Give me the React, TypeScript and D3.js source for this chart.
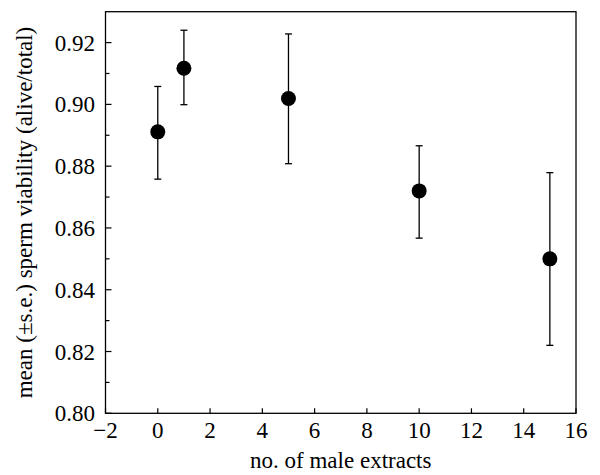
import React from "react";
import * as d3 from "d3";

const extracts = [0, 1, 5, 10, 15];
const meanViability = [0.8911, 0.9117, 0.9019, 0.872, 0.85];
const seUpper = [0.9058, 0.924, 0.9228, 0.8866, 0.8779];
const seLower = [0.8758, 0.8999, 0.8808, 0.8567, 0.822];
const xTicks = [-2, 0, 2, 4, 6, 8, 10, 12, 14, 16];
const yTicks = [0.8, 0.82, 0.84, 0.86, 0.88, 0.9, 0.92];
const yMinorTicks = [0.81, 0.83, 0.85, 0.87, 0.89, 0.91];

const W = 600;
const H = 475;
const left = 105.5;
const right = 576;
const top = 11.7;
const bottom = 413.3;
const FONT = "'Liberation Serif', 'Times New Roman', Times, serif";

export default function App() {
  const x = d3.scaleLinear().domain([-2, 16]).range([left, right]);
  const y = d3.scaleLinear().domain([0.8, 0.93]).range([bottom, top]);
  const fmt = d3.format(".2f");
  const capHalf = 3.5;
  const ts = { fontFamily: FONT, fontSize: 23 } as React.CSSProperties;
  return (
    <svg
      width={W}
      height={H}
      style={{ position: "absolute", left: 0, top: 0, background: "#fff" }}
    >
      <rect x={left} y={top} width={right - left} height={bottom - top} fill="none" stroke="#000" strokeWidth={1.3} />
      {xTicks.map((t) => (
        <g key={"x" + t}>
          <line x1={x(t)} x2={x(t)} y1={bottom} y2={bottom - 5} stroke="#000" strokeWidth={1.2} />
          <text x={x(t)} y={438} style={ts} textAnchor="middle" fill="#000">
            {t < 0 ? "\u2212" + Math.abs(t) : String(t)}
          </text>
        </g>
      ))}
      {yTicks.map((t) => (
        <g key={"y" + t}>
          <line x1={left} x2={left + 6} y1={y(t)} y2={y(t)} stroke="#000" strokeWidth={1.2} />
          <text x={95} y={y(t) + 8} style={ts} textAnchor="end" fill="#000">
            {fmt(t)}
          </text>
        </g>
      ))}
      {yMinorTicks.map((t) => (
        <line key={"ym" + t} x1={left} x2={left + 4} y1={y(t)} y2={y(t)} stroke="#000" strokeWidth={1.2} />
      ))}
      {extracts.map((e, i) => (
        <g key={"p" + i}>
          <line x1={x(e)} x2={x(e)} y1={y(seUpper[i])} y2={y(seLower[i])} stroke="#000" strokeWidth={1.3} />
          <line x1={x(e) - capHalf} x2={x(e) + capHalf} y1={y(seUpper[i])} y2={y(seUpper[i])} stroke="#000" strokeWidth={1.3} />
          <line x1={x(e) - capHalf} x2={x(e) + capHalf} y1={y(seLower[i])} y2={y(seLower[i])} stroke="#000" strokeWidth={1.3} />
          <circle cx={x(e)} cy={y(meanViability[i])} r={7.5} fill="#000" />
        </g>
      ))}
      <text x={(left + right) / 2} y={468} style={ts} textAnchor="middle" fill="#000">
        no. of male extracts
      </text>
      <text
        transform={`translate(32, ${(top + bottom) / 2}) rotate(-90)`}
        style={ts}
        textAnchor="middle"
        fill="#000"
      >
        mean (±s.e.) sperm viability (alive/total)
      </text>
    </svg>
  );
}
